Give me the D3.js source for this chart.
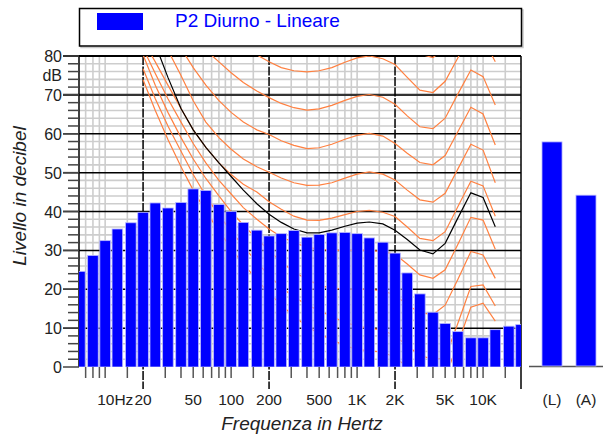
<!DOCTYPE html>
<html>
<head>
<meta charset="utf-8">
<script src="https://cdn.jsdelivr.net/npm/d3@7"></script>
<style>
  body { margin: 0; background: #fff; }
  text { font-family: "Liberation Sans", Arial, sans-serif; }
</style>
</head>
<body>
<script>
// third-octave spectrum
var bandHz = [6.3, 8, 10, 12.5, 16, 20, 25, 31.5, 40, 50, 63, 80, 100, 125, 160, 200, 250, 315,
              400, 500, 630, 800, 1000, 1250, 1600, 2000, 2500, 3150, 4000, 5000, 6300, 8000,
              10000, 12500, 16000, 20000];
var levelDb = [24.6, 28.7, 32.5, 35.5, 37.1, 39.8, 42.2, 40.9, 42.3, 45.8, 45.4, 41.8, 40.0, 37.2,
               35.2, 33.7, 34.3, 35.1, 33.4, 34.1, 34.5, 34.6, 34.3, 33.2, 32.1, 29.3, 24.2, 18.8,
               14.1, 11.2, 9.1, 7.5, 7.5, 9.6, 10.5, 10.9];

// overall levels
var totalLabels = ["(L)", "(A)"];
var totalDb = [57.9, 44.2];

// equal loudness curves
var curveHz = [20, 25, 31.5, 40, 50, 63, 80, 100, 125, 160, 200, 250, 315, 400, 500, 630, 800,
               1000, 1250, 1600, 2000, 2500, 3150, 4000, 5000, 6300, 8000, 10000, 12500];
var curve90 = [120, 117, 114, 111, 108, 105, 102, 99, 97, 94, 92, 90, 88.5, 87.5, 87, 87, 88, 89, 90,
               89.3, 87.6, 84, 80.5, 79.6, 82, 88, 95, 93.5, 88];
var curve80 = [105, 102, 99, 96, 93, 90.5, 88, 85.5, 83, 80.3, 78.5, 77, 76.2, 75.9, 76.2, 77, 78.4,
               79.5, 80, 79.3, 77.8, 74.5, 71.2, 70.6, 73.5, 79.5, 85.6, 84.6, 78.5];
var curve70 = [101, 97, 93, 89, 85, 81.5, 78.5, 75.7, 73.2, 71, 69.3, 67.8, 66.7, 66.1, 66.4, 67.3,
               68.6, 69.6, 70.1, 69.4, 67.6, 64.6, 61.8, 61.3, 64, 70.2, 76.4, 74.7, 67.4];
var curve60 = [95, 91, 87, 82, 77, 72.5, 68.5, 65.5, 63, 61, 59.8, 58.2, 57, 56.2, 56.4, 57.3, 58.6,
               59.6, 60.1, 59.4, 57.5, 55, 52.6, 52, 54.4, 60.5, 66.8, 65.1, 57.1];
var curve50 = [92, 86.5, 81.5, 75, 68.5, 63, 59, 56, 53.5, 51.5, 50.1, 48.6, 47.4, 46.7, 46.8, 47.4,
               48.6, 49.6, 50.2, 49.6, 48.1, 45.5, 43, 42.4, 44.7, 50.9, 57.3, 55.8, 47.4];
var curve40 = [84, 78.5, 72.5, 66.5, 61, 56.5, 52.5, 49.5, 47, 45, 42.5, 40.6, 38.8, 37.8, 37.7, 38.3,
               39.2, 40, 40.3, 39.8, 38.7, 36, 33.1, 32.5, 34.8, 41.2, 47.8, 46.6, 38.8];
var curve30 = [82, 75.5, 69, 63, 57.5, 52.5, 48, 44.5, 41, 38, 35.5, 33.5, 32, 30.8, 30.3, 30, 30, 30,
               30, 29.7, 29, 26.5, 23.7, 22.8, 25, 31.5, 38.5, 37.8, 30.3];
var curve20 = [80.3, 72.5, 65.5, 59, 53.5, 48.5, 44, 40, 36.5, 33, 30, 27, 24.5, 22.5, 21, 20.3, 20,
               20, 20, 19.6, 18.5, 16, 14, 13.5, 15.9, 22.5, 29.7, 28.8, 22.8];
var curve10 = [76.7, 69, 62, 55.5, 49.5, 44, 39, 35, 31, 27, 23.5, 20.5, 18, 16, 14.5, 13, 11.5, 10.5,
               10, 9.5, 8, 5.5, 3, 2, 2.3, 11.2, 20.7, 21.1, 15.7];
var curve0 = [73.9, 66, 58.5, 51.5, 45.5, 40, 35, 30.5, 26.5, 22.5, 19, 16, 13, 10.5, 8.5, 7, 5.5, 4.5,
              4.2, 3.8, 2.5, 0, -2.5, -3, -2.7, 6, 15.4, 16.4, 11.8];
var curveNoise = [95, 83, 74.5, 66.5, 61, 56.5, 52.5, 49, 45.5, 42, 39.3, 37.2, 35.5, 34.5, 34.5,
                  35.2, 36.2, 37, 37.3, 36.8, 35.2, 32.8, 30.1, 29.1, 31.8, 38.3, 44.8, 43.6, 36.1];

var tickHz = [10, 20, 50, 100, 200, 500, 1000, 2000, 5000, 10000];
var tickText = ["10Hz", "20", "50", "100", "200", "500", "1K", "2K", "5K", "10K"];
var gridHz = [7, 8, 9, 10, 15, 30, 40, 50, 60, 70, 80, 90, 100, 150, 300, 400, 500, 600, 700, 800,
              900, 1000, 1500, 3000, 4000, 5000, 6000, 7000, 8000, 9000, 10000, 15000];
var decadeHz = [20, 200, 2000, 20000];

var W = 603, H = 434;
var m = {l: 79, r: 521, t: 56, b: 367};

var svg = d3.select("body").append("svg").attr("width", W).attr("height", H);

var x = d3.scaleLog().domain([6.2, 20000]).range([m.l, m.r]);
var y = d3.scaleLinear().domain([0, 80]).range([m.b, m.t]);

svg.append("clipPath").attr("id", "plot")
  .append("rect").attr("x", m.l).attr("y", m.t).attr("width", m.r - m.l).attr("height", m.b - m.t);

// legend
svg.append("rect").attr("x", 81).attr("y", 10).attr("width", 442).attr("height", 37.5)
  .attr("fill", "none").attr("stroke", "#c8c8c8").attr("stroke-width", 1.5);
svg.append("rect").attr("x", 79.5).attr("y", 8.5).attr("width", 442).attr("height", 37.5)
  .attr("fill", "#fff").attr("stroke", "#000").attr("stroke-width", 1.5);
svg.append("rect").attr("x", 97).attr("y", 13).attr("width", 46).attr("height", 17).attr("fill", "#0000ff");
svg.append("text").attr("x", 175).attr("y", 26.5).attr("fill", "#0000ff")
  .style("font-size", "19px").text("P2 Diurno - Lineare");

// grid
var grid = svg.append("g");
grid.selectAll(".hg").data(d3.range(2, 80, 2).filter(function (d) { return d % 10 != 0; }))
  .enter().append("line")
  .attr("x1", m.l).attr("x2", m.r).attr("y1", y).attr("y2", y)
  .attr("stroke", "#cdcdcd").attr("stroke-width", 1.6);
grid.selectAll(".vg").data(gridHz).enter().append("line")
  .attr("x1", x).attr("x2", x).attr("y1", m.t).attr("y2", m.b)
  .attr("stroke", "#cdcdcd").attr("stroke-width", 1.6);
grid.selectAll(".hm").data(d3.range(10, 80, 10)).enter().append("line")
  .attr("x1", 63).attr("x2", m.r).attr("y1", y).attr("y2", y)
  .attr("stroke", function (d) { return d == 70 ? "#333" : "#000"; })
  .attr("stroke-width", function (d) { return d == 70 ? 2.2 : 1.5; });
grid.selectAll(".vm").data(decadeHz).enter().append("line")
  .attr("x1", x).attr("x2", x).attr("y1", m.t).attr("y2", function (d) { return m.b + 22; })
  .attr("stroke", "#000").attr("stroke-width", 1.5)
  .attr("stroke-dasharray", function (d) { return d == 20000 ? null : "9,1.5"; });
grid.append("line").attr("x1", 63).attr("x2", m.r).attr("y1", m.t).attr("y2", m.t)
  .attr("stroke", "#000").attr("stroke-width", 1.8);
grid.append("line").attr("x1", m.l).attr("x2", m.l).attr("y1", m.t).attr("y2", m.b)
  .attr("stroke", "#000").attr("stroke-width", 1.5);

// loudness curves
var line = d3.line().x(function (d) { return x(d[0]); }).y(function (d) { return y(d[1]); });
var orange = [curve90, curve80, curve70, curve60, curve50, curve40, curve30, curve20, curve10, curve0];
var cg = svg.append("g").attr("clip-path", "url(#plot)");
orange.forEach(function (c) {
  cg.append("path").datum(d3.zip(curveHz, c)).attr("d", line)
    .attr("fill", "none").attr("stroke", "#ff8040").attr("stroke-width", 1.2);
});
cg.append("path").datum(d3.zip(curveHz, curveNoise)).attr("d", line)
  .attr("fill", "none").attr("stroke", "#000").attr("stroke-width", 1.2);

// bars
var half = 5.3;
svg.append("g").attr("clip-path", "url(#plot)")
  .selectAll("rect").data(d3.zip(bandHz, levelDb)).enter().append("rect")
  .attr("x", function (d) { return x(d[0]) - half; })
  .attr("width", 2 * half)
  .attr("y", function (d) { return y(d[1]); })
  .attr("height", function (d) { return m.b - y(d[1]); })
  .attr("fill", "#0000ff").attr("stroke", "#b8b8ff").attr("stroke-width", 0.8);

// y axis ticks
var ax = svg.append("g");
ax.selectAll(".yt").data(d3.range(0, 81, 2)).enter().append("line")
  .attr("x1", function (d) { return d % 10 == 0 ? 63 : 68; }).attr("x2", m.l)
  .attr("y1", y).attr("y2", y)
  .attr("stroke", "#444").attr("stroke-width", 1.5);
ax.selectAll(".yl").data(d3.range(0, 81, 10)).enter().append("text")
  .attr("x", 62).attr("y", function (d) { return y(d) + 6; })
  .attr("text-anchor", "end").style("font-size", "16px").attr("fill", "#222")
  .text(function (d) { return d; });
ax.append("text").attr("x", 62).attr("y", y(75) + 6).attr("text-anchor", "end")
  .style("font-size", "16px").attr("fill", "#222").text("dB");

// x axis ticks
ax.selectAll(".xt").data(gridHz).enter().append("line")
  .attr("x1", x).attr("x2", x).attr("y1", m.b).attr("y2", m.b + 11)
  .attr("stroke", "#555").attr("stroke-width", 1.5);
ax.selectAll(".xl").data(d3.zip(tickHz, tickText)).enter().append("text")
  .attr("x", function (d) { return d[0] == 10 ? x(d[0]) - 8 : x(d[0]); })
  .attr("y", 405)
  .attr("text-anchor", function (d) { return d[0] == 10 ? "start" : "middle"; })
  .style("font-size", "15.5px").attr("fill", "#222")
  .text(function (d) { return d[1]; });

// overall bars
var xb = d3.scaleBand().domain(totalLabels).range([535, 603]).paddingInner(0.41).paddingOuter(0.206);
svg.append("line").attr("x1", 529).attr("x2", 603).attr("y1", m.b - 0.5).attr("y2", m.b - 0.5)
  .attr("stroke", "#555").attr("stroke-width", 1.5);
svg.selectAll(".tot").data(d3.zip(totalLabels, totalDb)).enter().append("rect")
  .attr("x", function (d) { return xb(d[0]); }).attr("width", xb.bandwidth())
  .attr("y", function (d) { return y(d[1]); })
  .attr("height", function (d) { return m.b - 1 - y(d[1]); })
  .attr("fill", "#0000ff").attr("stroke", "#b8b8ff").attr("stroke-width", 0.8);
svg.selectAll(".totl").data(totalLabels).enter().append("text")
  .attr("x", function (d) { return xb(d) + xb.bandwidth() / 2; }).attr("y", 405)
  .attr("text-anchor", "middle").style("font-size", "15.5px").attr("fill", "#222")
  .text(function (d) { return d; });

// axis titles
svg.append("text").attr("x", 302).attr("y", 430).attr("text-anchor", "middle")
  .style("font-size", "19px").style("font-style", "italic").attr("fill", "#222")
  .text("Frequenza in Hertz");
svg.append("text").attr("transform", "translate(26,196) rotate(-90)").attr("text-anchor", "middle")
  .style("font-size", "19px").style("font-style", "italic").attr("fill", "#222")
  .text("Livello in decibel");
</script>
</body>
</html>
